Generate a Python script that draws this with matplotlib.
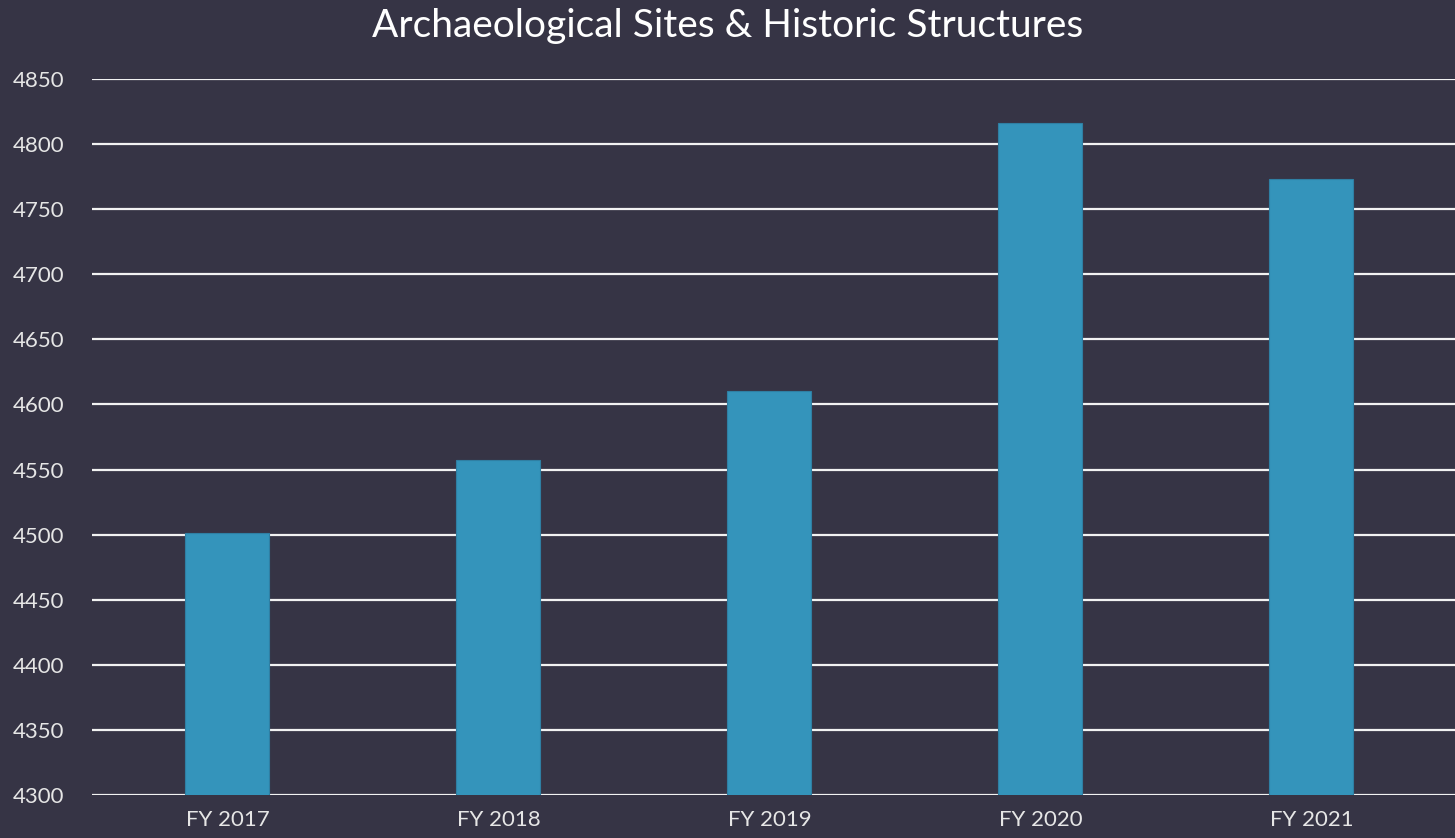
from matplotlib import pyplot as plt
import numpy as np

# data
years = ['FY 2017', 'FY 2018', 'FY 2019', 'FY 2020', 'FY 2021']
sites = [4501, 4557, 4610, 4816, 4773]
yticks = np.arange(4300, 4851, 50)

bg = '#363445'
barColor = '#3494bb'

plt.rcParams['font.family'] = ['Lato', 'DejaVu Sans']

fig = plt.figure(figsize=(14.55, 8.38), dpi=100, facecolor=bg)
ax = fig.add_axes([0.0632, 0.0513, 0.9368, 0.8544], facecolor=bg)

x = np.arange(len(years))
ax.bar(x, sites, width=0.31, color=barColor, edgecolor='#2f7fa3', linewidth=0.8, zorder=3)

ax.set_ylim(4300, 4850)
ax.set_xlim(-0.5, len(years) - 0.47)
ax.set_yticks(yticks)
ax.set_xticks(x)
ax.set_xticklabels(years)
ax.grid(axis='y', color='#f2f2f2', linewidth=1.6, zorder=0)
ax.set_axisbelow(True)

for s in ax.spines.values():
  s.set_visible(False)
ax.tick_params(axis='both', length=0, colors='#e6e6e6', labelsize=16)
ax.tick_params(axis='y', pad=20)
ax.tick_params(axis='x', pad=11)

fig.text(0.5, 0.969, 'Archaeological Sites & Historic Structures', ha='center', va='center',
         color='white', fontsize=28)

fig.savefig('out.png', dpi=100, facecolor=bg)
